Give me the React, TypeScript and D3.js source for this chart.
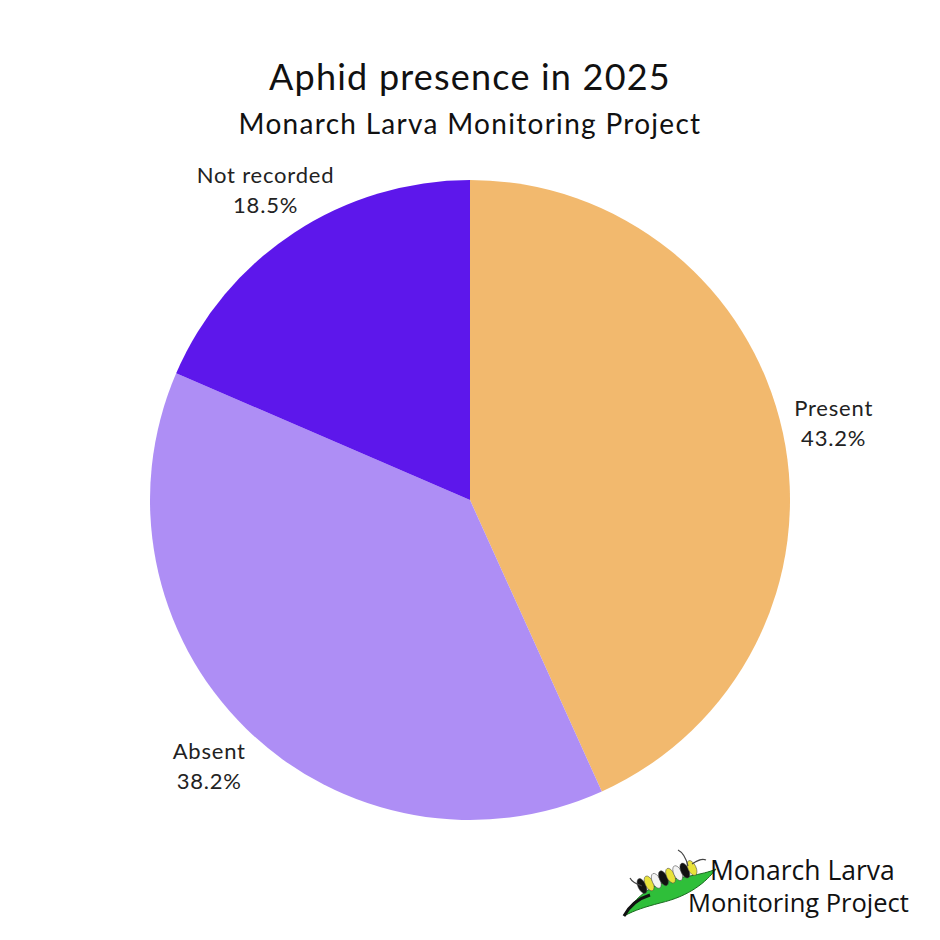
import React from "react";
import * as d3 from "d3";

const categories = ["Present", "Absent", "Not recorded"];
const values = [43.2, 38.2, 18.5];
const colors = ["#F2B96E", "#AE8EF5", "#5D17EB"];
const title = "Aphid presence in 2025";
const subtitle = "Monarch Larva Monitoring Project";
const logoLines = ["Monarch Larva", "Monitoring Project"];

const W = 940;
const H = 940;
const cx = 470;
const cy = 500;
const R = 320;
const LR = 372;

export default function App() {
  const data = categories.map((c, i) => ({ c, v: values[i], col: colors[i] }));
  const pie = d3.pie<any>().value((d: any) => d.v).sort(null);
  const arcs = pie(data);
  const arc = d3.arc<any>().innerRadius(0).outerRadius(R);
  const font = "Lato, 'Noto Sans', sans-serif";

  const segs = d3.range(8);
  return (
    <svg width={W} height={H} style={{ position: "absolute", left: 0, top: 0, background: "#fff" }}>
      <rect width={W} height={H} fill="#fff" />
      <text x={470} y={90} textAnchor="middle" fontFamily={font} fontSize={36} letterSpacing={1.2} fill="#111">{title}</text>
      <text x={470} y={134} textAnchor="middle" fontFamily={font} fontSize={28} letterSpacing={1.3} fill="#111">{subtitle}</text>
      <g transform={`translate(${cx},${cy})`}>
        {arcs.map((a, i) => (
          <path key={i} d={arc(a) as string} fill={a.data.col} />
        ))}
        {arcs.map((a, i) => {
          const mid = (a.startAngle + a.endAngle) / 2;
          const x = LR * Math.sin(mid);
          const y = -LR * Math.cos(mid);
          return (
            <text key={"l" + i} x={x} y={y} textAnchor="middle" fontFamily={font} fontSize={22} letterSpacing={0.8} fill="#222">
              <tspan x={x} dy={-6}>{a.data.c}</tspan>
              <tspan x={x} dy={30}>{a.data.v.toFixed(1)}%</tspan>
            </text>
          );
        })}
      </g>
      <g>
        <path d="M624,916 C640,890 660,880 690,876 C700,874 710,872 716,869 C706,882 690,896 660,903 C645,907 635,910 624,916 Z" fill="#2FBF3A" stroke="#1a6b1f" strokeWidth={1} />
        <path d="M624,916 C630,905 640,898 650,895" fill="none" stroke="#111" strokeWidth={3} />
        {segs.map((i) => {
          const t = i / 7;
          const x = 642 + t * 50;
          const y = 886 - t * 18;
          const fill = i % 3 === 0 ? "#111" : i % 3 === 1 ? "#E8E23A" : "#f4f4f4";
          return (
            <ellipse key={i} cx={x} cy={y} rx={4} ry={8} fill={fill} stroke="#444" strokeWidth={0.5} transform={`rotate(-25 ${x} ${y})`} />
          );
        })}
        <path d="M688,866 C686,858 682,852 678,850" fill="none" stroke="#444" strokeWidth={1.2} />
        <path d="M692,864 C698,860 702,858 706,860" fill="none" stroke="#444" strokeWidth={1.2} />
        <path d="M642,886 C636,884 632,882 630,878" fill="none" stroke="#444" strokeWidth={1.2} />
        <text x={710} y={880} fontFamily="'Open Sans', sans-serif" fontSize={26.5} fill="#111">{logoLines[0]}</text>
        <text x={688} y={912} fontFamily="'Open Sans', sans-serif" fontSize={25.5} fill="#111">{logoLines[1]}</text>
      </g>
    </svg>
  );
}
